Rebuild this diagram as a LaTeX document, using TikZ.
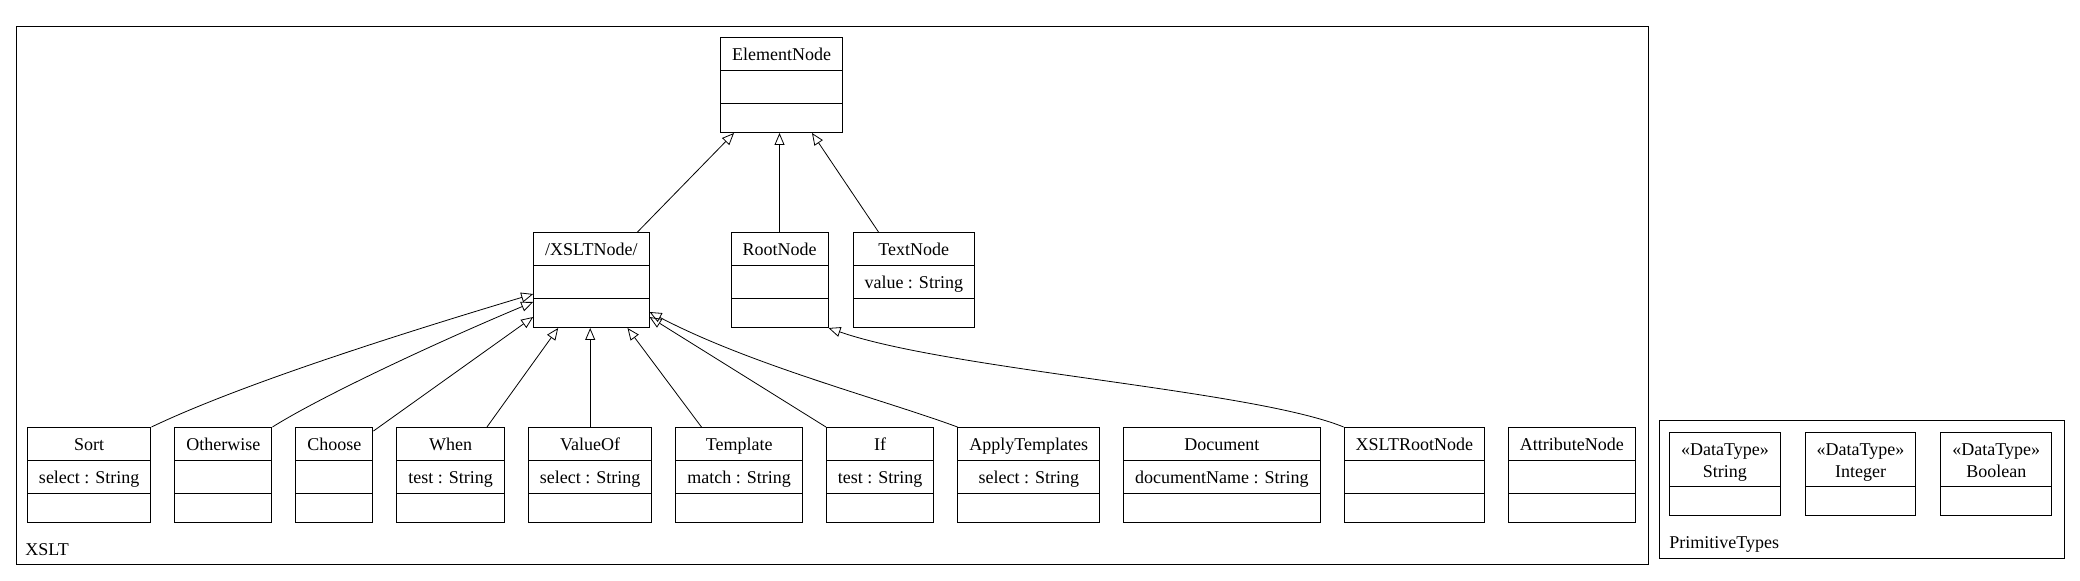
\documentclass[tikz,border=0pt]{standalone}
\usepackage{fontspec}
\setmainfont{Liberation Serif}
\usepackage{tikz}
\usetikzlibrary{positioning, shapes.multipart, arrows.meta}

\newcommand{\cpt}[1]{\rule[-4.5pt]{0pt}{16pt}#1}
\newcommand{\cptend}{\rule[-3.5pt]{0pt}{14pt}}
\newcommand{\stereo}[1]{\begin{tabular}{@{}c@{}}\rule{0pt}{11.5pt}«DataType»\\#1\rule[-4pt]{0pt}{4pt}\end{tabular}}

\tikzset{
  umlclass/.style={draw, line width=0.5pt, rectangle split, rectangle split parts=3,
    rectangle split empty part height=9.5pt, rectangle split empty part depth=3.5pt,
    inner xsep=5.75pt, inner ysep=0pt, font=\fontsize{9}{11}\selectfont},
  datatype/.style={umlclass, rectangle split parts=2},
  generalize/.style={-{Triangle[open, length=6pt, width=5pt]}, line width=0.4pt},
  package/.style={draw, line width=0.5pt},
  pkglabel/.style={anchor=base west, inner sep=0pt, font=\fontsize{9}{11}\selectfont},
}

\begin{document}
\begin{tikzpicture}[x=0.5pt, y=-0.5pt, node distance=11.5pt]
\useasboundingbox (0,0) rectangle (2080,581);

\draw[package] (16,27) rectangle (1648,565);
\node[pkglabel] (xsltlabel) at (25,556) {XSLT};
\draw[package] (1659,421) rectangle (2064,559);
\node[pkglabel] (primlabel) at (1669,549) {PrimitiveTypes};

\node[umlclass, anchor=north] (element) at (781.5,37) {\cpt{ElementNode}\nodepart{two}\cpt{}\nodepart{three}\cptend};
\node[umlclass, anchor=north] (rootnode) at (779.5,232) {\cpt{RootNode}\nodepart{two}\cpt{}\nodepart{three}\cptend};
\node[umlclass, left=40.5pt of rootnode] (xslt) {\cpt{/XSLTNode/}\nodepart{two}\cpt{}\nodepart{three}\cptend};
\node[umlclass, right=12pt of rootnode] (textnode) {\cpt{TextNode}\nodepart{two}\cpt{value : String}\nodepart{three}\cptend};

\node[umlclass, anchor=north west] (sort) at (27,427) {\cpt{Sort}\nodepart{two}\cpt{select : String}\nodepart{three}\cptend};
\node[umlclass, right=of sort] (otherwise) {\cpt{Otherwise}\nodepart{two}\cpt{}\nodepart{three}\cptend};
\node[umlclass, right=of otherwise] (choose) {\cpt{Choose}\nodepart{two}\cpt{}\nodepart{three}\cptend};
\node[umlclass, right=of choose] (when) {\cpt{When}\nodepart{two}\cpt{test : String}\nodepart{three}\cptend};
\node[umlclass, right=of when] (valueof) {\cpt{ValueOf}\nodepart{two}\cpt{select : String}\nodepart{three}\cptend};
\node[umlclass, right=of valueof] (template) {\cpt{Template}\nodepart{two}\cpt{match : String}\nodepart{three}\cptend};
\node[umlclass, right=of template] (if) {\cpt{If}\nodepart{two}\cpt{test : String}\nodepart{three}\cptend};
\node[umlclass, right=of if] (applytemplates) {\cpt{ApplyTemplates}\nodepart{two}\cpt{select : String}\nodepart{three}\cptend};
\node[umlclass, right=of applytemplates] (document) {\cpt{Document}\nodepart{two}\cpt{documentName : String}\nodepart{three}\cptend};
\node[umlclass, right=of document] (xsltroot) {\cpt{XSLTRootNode}\nodepart{two}\cpt{}\nodepart{three}\cptend};
\node[umlclass, right=of xsltroot] (attribute) {\cpt{AttributeNode}\nodepart{two}\cpt{}\nodepart{three}\cptend};

\node[datatype, anchor=north west] (string) at (1669,432) {\stereo{String}\nodepart{two}\cptend};
\node[datatype, right=12pt of string] (integer) {\stereo{Integer}\nodepart{two}\cptend};
\node[datatype, right=12pt of integer] (boolean) {\stereo{Boolean}\nodepart{two}\cptend};

\draw[generalize] ([xshift=-6pt]xslt.north east) -- ([xshift=7pt]element.south west);
\draw[generalize] (rootnode.north) -- (rootnode.north |- element.south);
\draw[generalize] ([xshift=13pt]textnode.north west) -- ([xshift=-15.5pt]element.south east);

\draw[generalize] (sort.north east) .. controls +(90,-43) and +(-130,39) .. ([yshift=-31pt]xslt.north west);
\draw[generalize] (otherwise.north east) .. controls +(51,-32) and +(-91,38) .. ([yshift=-35pt]xslt.north west);
\draw[generalize] ([yshift=-2pt]choose.north east) -- ([yshift=-42.5pt]xslt.north west);
\draw[generalize] ([xshift=-9pt]when.north east) -- ([xshift=12.5pt]xslt.south west);
\draw[generalize] (valueof.north) -- (valueof.north |- xslt.south);
\draw[generalize] ([xshift=13pt]template.north west) -- ([xshift=-11pt]xslt.south east);
\draw[generalize] (if.north west) -- ([yshift=-42.5pt]xslt.north east);
\draw[generalize] (applytemplates.north west) .. controls +(-73,-27) and +(101,53) .. ([yshift=-40pt]xslt.north east);
\draw[generalize] (xsltroot.north west) .. controls +(-91,-37) and +(121,42) .. (rootnode.south east);
\end{tikzpicture}
\end{document}
